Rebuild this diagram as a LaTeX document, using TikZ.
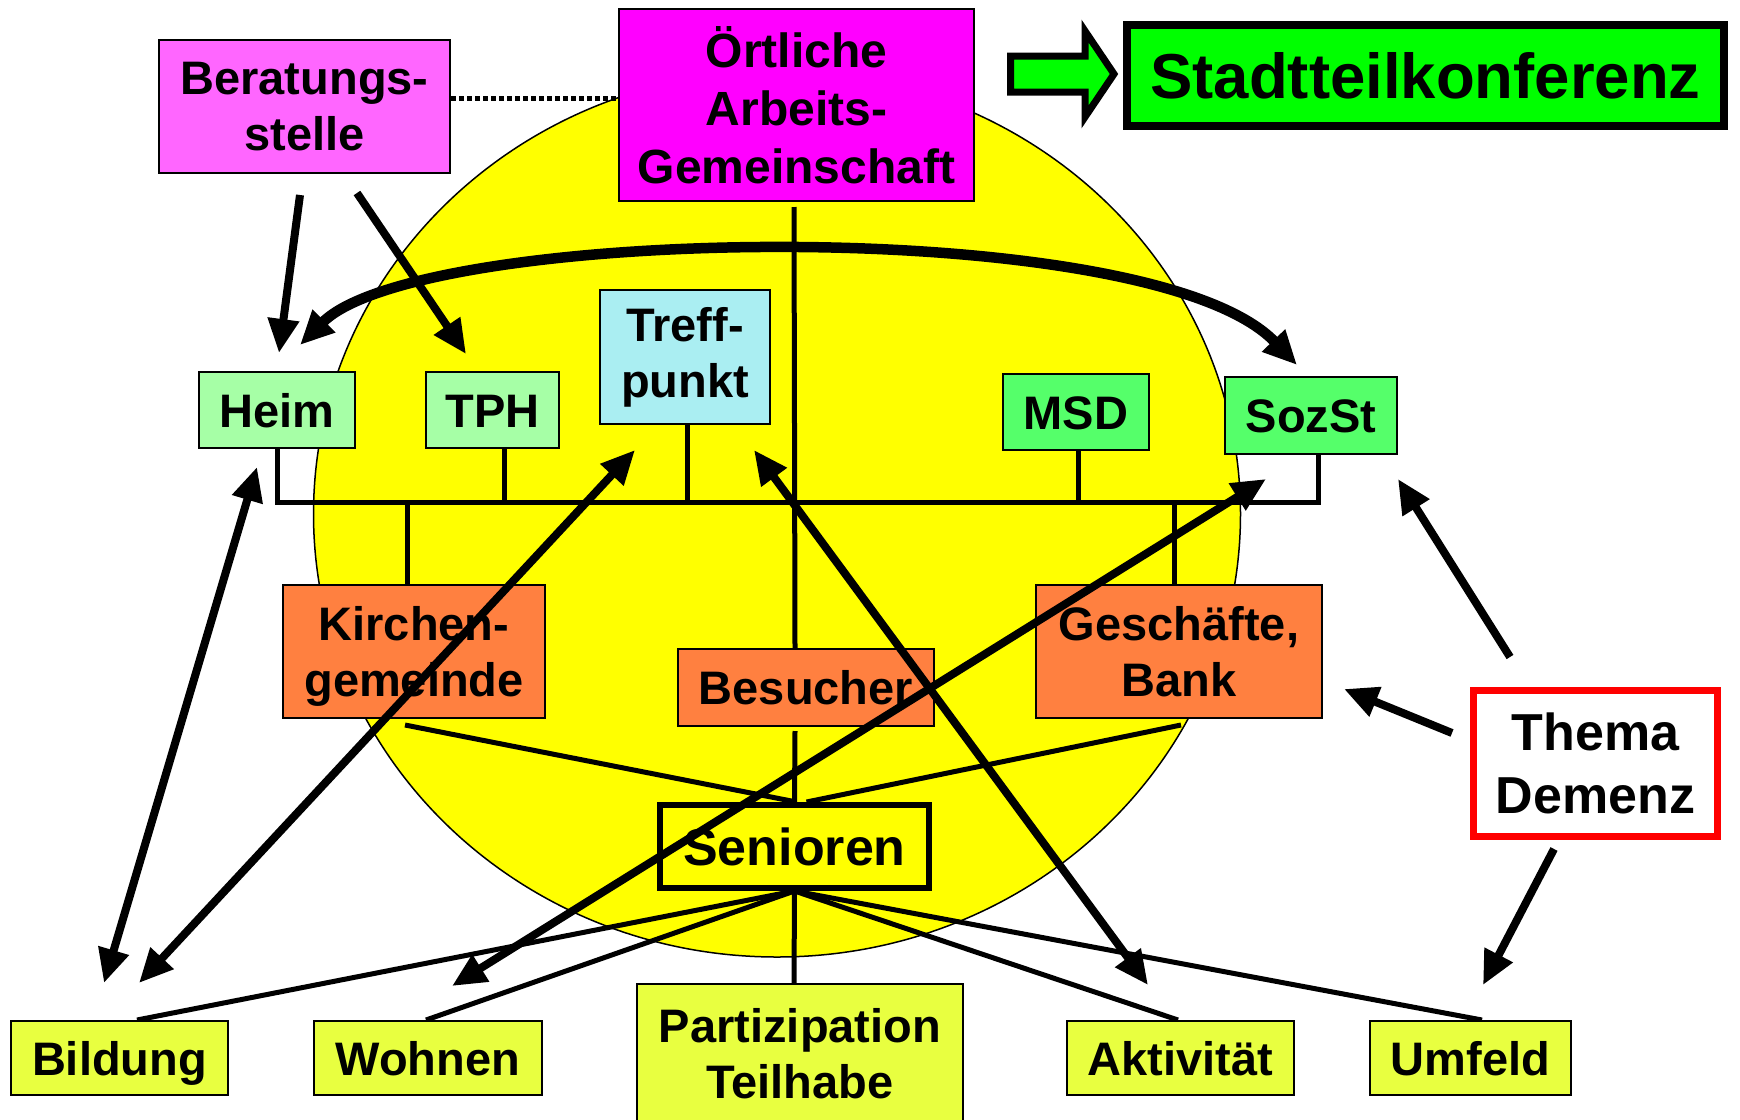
\documentclass[tikz,border=0pt]{standalone}
\usepackage{fontspec}
\setmainfont{Liberation Sans}
\usetikzlibrary{arrows.meta}
\pgfdeclarelayer{back}
\pgfdeclarelayer{mid}
\pgfdeclarelayer{front}
\pgfsetlayers{back,mid,main,front}
\definecolor{cBerat}{RGB}{255,102,255}
\definecolor{cOert}{RGB}{255,0,255}
\definecolor{cLight}{RGB}{166,255,166}
\definecolor{cCyan}{RGB}{170,238,242}
\definecolor{cMid}{RGB}{85,255,106}
\definecolor{cOrange}{RGB}{255,128,64}
\definecolor{cLime}{RGB}{232,255,64}
\definecolor{cGreen}{RGB}{0,255,0}
\definecolor{cYellow}{RGB}{255,255,0}
\definecolor{cRed}{RGB}{255,0,0}
\begin{document}
\begin{tikzpicture}[x=1pt,y=-1pt,
  >={Triangle[length=34pt,width=30pt]},
  box/.style={draw=black,line width=2pt,inner sep=0pt,align=center,
    font=\fontsize{47}{56}\selectfont\bfseries},
  oneline/.style={text height=34pt,text depth=0pt},
  thinln/.style={line width=5pt},
  dotln/.style={line width=5pt,dash pattern=on 4.5pt off 3.5pt},
  bigarr/.style={line width=8pt},
  curvearr/.style={line width=10.5pt}]
\useasboundingbox (0,0) rectangle (1740,1119);
\begin{pgfonlayer}{back}
\fill[white] (0,0) rectangle (1740,1119);
\draw[fill=cYellow,line width=1.5pt] (777,514) ellipse [x radius=463.5pt, y radius=443pt];
\end{pgfonlayer}

% nodes
\node[box,fill=cBerat,minimum width=291pt,minimum height=133pt] (berat) at (304.5,106.5) {Beratungs-\\stelle};
\node[box,fill=cOert,minimum width=355pt,minimum height=192pt,font=\fontsize{48}{58}\selectfont\bfseries] (oert) at (796.5,105) {Örtliche\\Arbeits-\\Gemeinschaft};
\node[box,line width=8pt,fill=cGreen,minimum width=597pt,minimum height=101pt,font=\fontsize{63.5}{70}\selectfont\bfseries,text height=46pt,text depth=0pt] (stadt) at (1425.5,75.5) {Stadtteilkonferenz};
\node[box,oneline,fill=cLight,minimum width=156pt,minimum height=76pt] (heim) at (277,410) {Heim};
\node[box,oneline,fill=cLight,minimum width=133pt,minimum height=76pt] (tph) at (492.5,410) {TPH};
\node[box,fill=cCyan,minimum width=170pt,minimum height=134pt] (treff) at (685,357) {Treff-\\punkt};
\node[box,oneline,fill=cMid,minimum width=146pt,minimum height=76pt] (msd) at (1076,412) {MSD};
\node[box,oneline,fill=cMid,minimum width=172pt,minimum height=77pt] (sozst) at (1311,415.5) {SozSt};
\node[box,fill=cOrange,minimum width=262pt,minimum height=133pt,text depth=0pt] (kirch) at (414,651.5) {Kirchen-\\gemeinde};
\node[box,oneline,fill=cOrange,minimum width=256pt,minimum height=77pt] (besuch) at (806,687.5) {Besucher};
\node[box,fill=cOrange,minimum width=286pt,minimum height=133pt] (gesch) at (1179,651.5) {Geschäfte,\\Bank};
\node[box,line width=6pt,fill=cYellow,minimum width=269pt,minimum height=83pt,font=\fontsize{52}{62}\selectfont\bfseries,text height=37.5pt,text depth=0pt] (senior) at (794.5,846.5) {Senioren};
\node[box,draw=cRed,line width=7pt,fill=white,minimum width=244pt,minimum height=146pt,font=\fontsize{52}{63}\selectfont\bfseries] (thema) at (1595.5,763) {Thema\\Demenz};
\node[box,oneline,fill=cLime,minimum width=217pt,minimum height=74pt] (bildung) at (119.5,1058) {Bildung};
\node[box,oneline,fill=cLime,minimum width=228pt,minimum height=74pt] (wohnen) at (428,1058) {Wohnen};
\node[box,fill=cLime,minimum width=326pt,minimum height=140pt] (partiz) at (800,1054) {Partizipation\\Teilhabe};
\node[box,oneline,fill=cLime,minimum width=227pt,minimum height=74pt] (aktiv) at (1180.5,1058) {Aktivität};
\node[box,oneline,fill=cLime,minimum width=201pt,minimum height=74pt] (umfeld) at (1470.5,1058) {Umfeld};

\coordinate (busL) at (277,502);
\coordinate (busR) at (1318,502);

\begin{pgfonlayer}{mid}
\draw[dotln] (berat.east |- 0,98) -- (oert.west |- 0,98);
\draw[thinln] ([xshift=-2.5pt,yshift=-5pt]oert.south) -- ([xshift=-11pt]besuch.north);
\draw[thinln] (heim.south) -- (busL) -- (busR) -- (busR |- sozst.south);
\draw[thinln] ([xshift=11.5pt]tph.south) -- ([xshift=11.5pt]tph.south |- busL);
\draw[thinln] ([xshift=2pt]treff.south) -- ([xshift=2pt]treff.south |- busL);
\draw[thinln] ([xshift=2pt]msd.south) -- ([xshift=2pt]msd.south |- busL);
\draw[thinln] ([xshift=-7pt]kirch.north) -- ([xshift=-7pt]kirch.north |- busL);
\draw[thinln] ([xshift=-5pt]gesch.north) -- ([xshift=-5pt]gesch.north |- busL);
\draw[thinln] ([xshift=-11pt,yshift=-4pt]besuch.south) -- (senior.north);
\draw[thinln] ([xshift=-9pt,yshift=-6pt]kirch.south) -- ([xshift=2pt]senior.north);
\draw[thinln] ([xshift=2pt,yshift=-6pt]gesch.south) -- ([xshift=12pt]senior.north);
\draw[thinln] (senior.south) -- ([xshift=17.5pt]bildung.north);
\draw[thinln] (senior.south) -- ([xshift=-2pt]wohnen.north);
\draw[thinln] (senior.south) -- ([xshift=-6pt]partiz.north);
\draw[thinln] (senior.south) -- ([xshift=-2.5pt]aktiv.north);
\draw[thinln] (senior.south) -- ([xshift=11.5pt]umfeld.north);
\end{pgfonlayer}

% block arrow
\draw[line width=7pt,line join=miter,fill=cGreen] (1010.5,56) -- (1085,56) -- (1085,31) -- (1114,74) -- (1085,117) -- (1085,92) -- (1010.5,92) -- cycle;

\coordinate (a1s) at (300,195);
\coordinate (a1e) at (279,353);
\coordinate (a2s) at (357,193);
\coordinate (a2e) at (466,354);
\coordinate (a3s) at (257,467);
\coordinate (a3e) at (104,983);
\coordinate (a4s) at (635,450);
\coordinate (a4e) at (139,983);
\coordinate (a5s) at (754,450);
\coordinate (a5e) at (1148,985);
\coordinate (a6s) at (1266,479);
\coordinate (a6e) at (452,986);
\coordinate (a7s) at (1510,657);
\coordinate (a7e) at (1398,479);
\coordinate (a8s) at (1452,733);
\coordinate (a8e) at (1344,689);
\coordinate (a9s) at (1554,849);
\coordinate (a9e) at (1483,985);
\coordinate (c1) at (300,345);
\coordinate (c2) at (1297,365);

\begin{pgfonlayer}{front}
\draw[bigarr,->] (a1s) -- (a1e);
\draw[bigarr,->] (a2s) -- (a2e);
\draw[bigarr,<->] (a3s) -- (a3e);
\draw[bigarr,<->] (a4s) -- (a4e);
\draw[bigarr,<->] (a5s) -- (a5e);
\draw[bigarr,<->] (a6s) -- (a6e);
\draw[bigarr,->] (a7s) -- (a7e);
\draw[bigarr,->] (a8s) -- (a8e);
\draw[bigarr,->] (a9s) -- (a9e);
\draw[curvearr,<->] (c1) .. controls (420,225) and (1150,212) .. (c2);
\end{pgfonlayer}
\end{tikzpicture}
\end{document}
